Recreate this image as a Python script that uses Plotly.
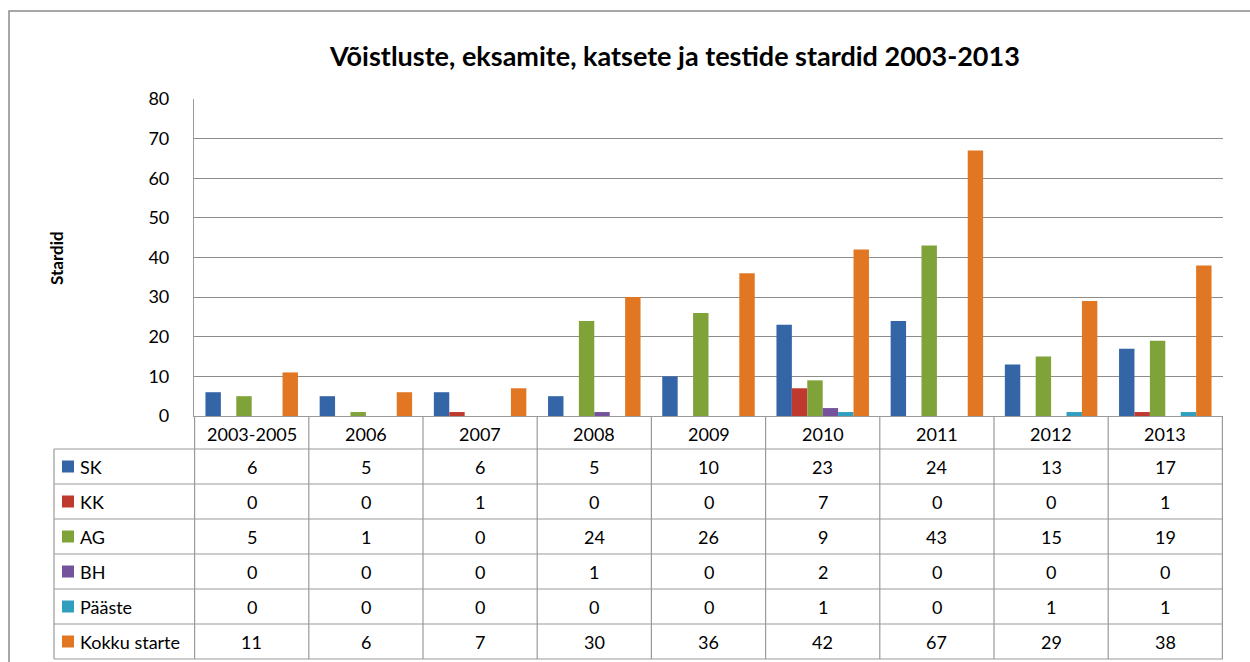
import plotly.graph_objects as go

# andmed (loetud jooniselt)
categories = ["2003-2005", "2006", "2007", "2008", "2009", "2010", "2011", "2012", "2013"]
sk = [6, 5, 6, 5, 10, 23, 24, 13, 17]
kk = [0, 0, 1, 0, 0, 7, 0, 0, 1]
ag = [5, 1, 0, 24, 26, 9, 43, 15, 19]
bh = [0, 0, 0, 1, 0, 2, 0, 0, 0]
paaste = [0, 0, 0, 0, 0, 1, 0, 1, 1]
kokku = [11, 6, 7, 30, 36, 42, 67, 29, 38]

series_names = ["SK", "KK", "AG", "BH", "Pääste", "Kokku starte"]
series_values = [sk, kk, ag, bh, paaste, kokku]
colors = ["#3465a6", "#c0392f", "#7fa338", "#74539c", "#2f9ebf", "#e27723"]

W, H = 1250, 662
FONT = "Lato"


def px_x(x):
    return x / W


def px_y(y):
    return 1 - y / H


plot_left, plot_right = 194, 1223
plot_top, plot_bottom = 99, 416
table_left = 54
header_bottom = 449
row_h = 35

fig = go.Figure()
for name, vals, col in zip(series_names, series_values, colors):
    fig.add_trace(go.Bar(x=categories, y=vals, name=name, marker=dict(color=col, line=dict(width=0))))

shapes = []
annotations = []
line_col = "#9a9a9a"

# ramjoon ümber joonise
shapes.append(dict(type="rect", xref="paper", yref="paper", x0=px_x(9), x1=px_x(1260),
                   y0=px_y(700), y1=px_y(11), line=dict(color="#8a8a8a", width=1.5)))

# tabel: horisontaaljooned
n_rows = len(series_names)
for r in range(n_rows + 1):
    y = header_bottom + r * row_h
    shapes.append(dict(type="line", xref="paper", yref="paper", x0=px_x(table_left), x1=px_x(plot_right),
                       y0=px_y(y), y1=px_y(y), line=dict(color=line_col, width=1.2)))
# vasak serv
shapes.append(dict(type="line", xref="paper", yref="paper", x0=px_x(table_left), x1=px_x(table_left),
                   y0=px_y(header_bottom), y1=px_y(header_bottom + n_rows * row_h),
                   line=dict(color=line_col, width=1.2)))
# kategooriate piirid
for i in range(len(categories) + 1):
    shapes.append(dict(type="line", xref="x", yref="paper", x0=i - 0.5, x1=i - 0.5,
                       y0=px_y(plot_bottom), y1=px_y(header_bottom + n_rows * row_h),
                       line=dict(color=line_col, width=1.2)))

# päis
for i, c in enumerate(categories):
    annotations.append(dict(x=i, xref="x", y=px_y((plot_bottom + header_bottom) / 2 + 1), yref="paper",
                            text=c, showarrow=False, font=dict(family=FONT, size=18, color="black"),
                            xanchor="center", yanchor="middle"))

# read
for r, (name, vals, col) in enumerate(zip(series_names, series_values, colors)):
    yc = header_bottom + r * row_h + row_h / 2
    shapes.append(dict(type="rect", xref="paper", yref="paper", x0=px_x(62), x1=px_x(74),
                       y0=px_y(yc + 6), y1=px_y(yc - 6), fillcolor=col, line=dict(width=0)))
    annotations.append(dict(x=px_x(78), xref="paper", y=px_y(yc), yref="paper", text=name,
                            showarrow=False, xanchor="left", yanchor="middle",
                            font=dict(family=FONT, size=18, color="black")))
    for i, v in enumerate(vals):
        annotations.append(dict(x=i, xref="x", y=px_y(yc), yref="paper", text=str(v),
                                showarrow=False, xanchor="center", yanchor="middle",
                                font=dict(family=FONT, size=18, color="black")))

# pealkiri ja telje nimi
annotations.append(dict(x=px_x(674), xref="paper", y=px_y(55), yref="paper",
                        text="<b>Võistluste, eksamite, katsete ja testide stardid 2003-2013</b>",
                        showarrow=False, xanchor="center", yanchor="middle",
                        font=dict(family=FONT, size=27, color="black")))
annotations.append(dict(x=px_x(56), xref="paper", y=px_y(258), yref="paper", text="<b>Stardid</b>",
                        textangle=-90, showarrow=False, xanchor="center", yanchor="middle",
                        font=dict(family=FONT, size=17, color="black")))

fig.update_layout(
    width=W, height=H,
    margin=dict(l=0, r=0, t=0, b=0),
    paper_bgcolor="white", plot_bgcolor="white",
    barmode="group", bargap=0.19, bargroupgap=0,
    showlegend=False,
    shapes=shapes, annotations=annotations,
    xaxis=dict(domain=[px_x(plot_left), px_x(plot_right)], showticklabels=False, ticks="",
               showline=True, linecolor=line_col, linewidth=1.2, showgrid=False, automargin=False),
    yaxis=dict(domain=[px_y(plot_bottom), px_y(plot_top)], range=[0, 80], dtick=10,
               showgrid=True, gridcolor="#8c8c8c", gridwidth=1.2,
               showline=True, linecolor=line_col, linewidth=1.2, zeroline=False,
               ticks="", ticklabelstandoff=20, automargin=False,
               tickfont=dict(family=FONT, size=18, color="black")),
)

fig.write_html("out.html", config={"displayModeBar": False},
               post_script="document.body.style.margin='0';")
